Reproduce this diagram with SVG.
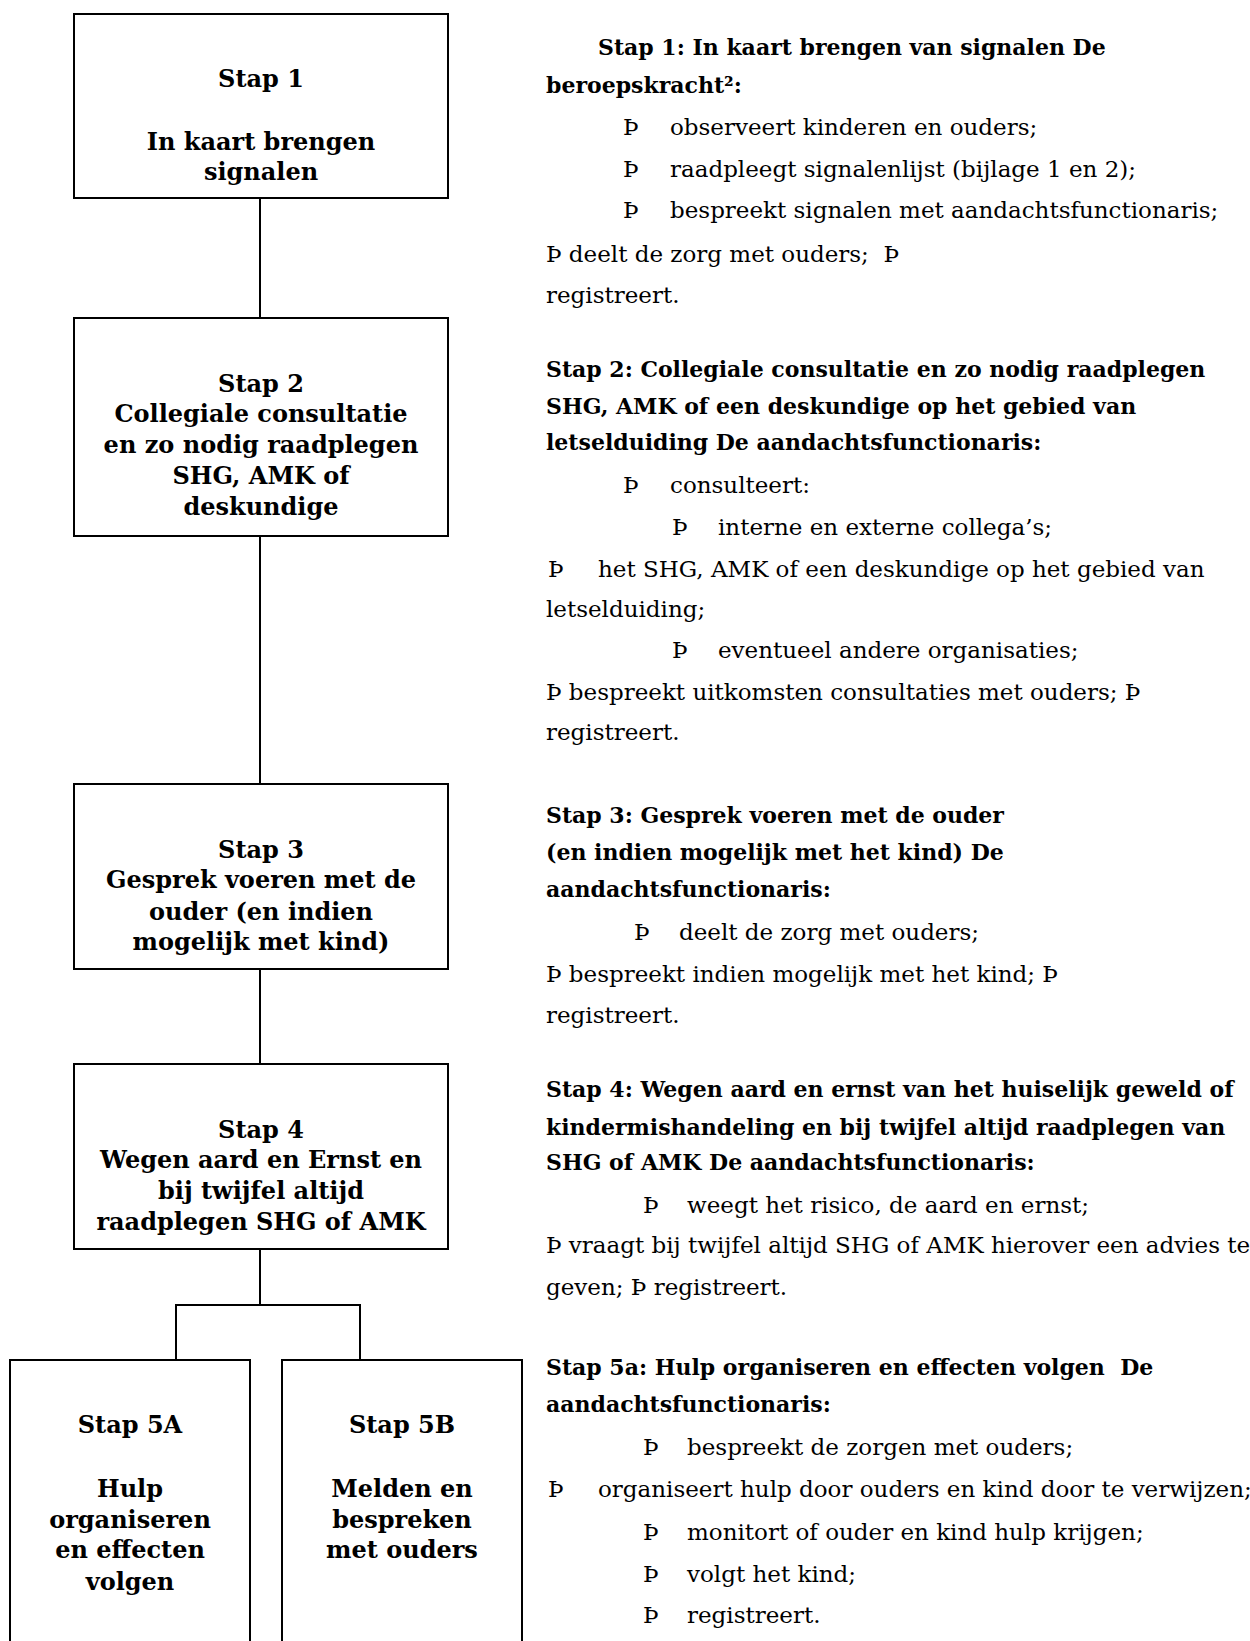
<svg xmlns="http://www.w3.org/2000/svg" width="1250" height="1641" viewBox="0 0 1250 1641">
<style>
.box{fill:#fff;stroke:#000;stroke-width:2}
.con{fill:none;stroke:#000;stroke-width:2}
.bt{font-family:"DejaVu Serif","Liberation Serif",serif;font-weight:bold;font-size:24px;text-anchor:middle;fill:#000}
.h{font-family:"DejaVu Serif","Liberation Serif",serif;font-weight:bold;font-size:22px;fill:#000}
.r{font-family:"DejaVu Serif","Liberation Serif",serif;font-size:23px;fill:#000}
</style>
<rect width="1250" height="1641" fill="#fff"/>
<g id="connectors">
<line class="con" x1="260" y1="198" x2="260" y2="318"/>
<line class="con" x1="260" y1="536" x2="260" y2="784"/>
<line class="con" x1="260" y1="969" x2="260" y2="1064"/>
<polyline class="con" points="260,1249 260,1305"/>
<polyline class="con" points="176,1360 176,1305 360,1305 360,1360"/>
</g>
<g id="stap1">
<rect class="box" x="74" y="14" width="374" height="184"/>
<text class="bt" x="261" y="87">Stap 1</text>
<text class="bt" x="261" y="150">In kaart brengen</text>
<text class="bt" x="261" y="180">signalen</text>
</g>
<g id="stap2">
<rect class="box" x="74" y="318" width="374" height="218"/>
<text class="bt" x="261" y="392">Stap 2</text>
<text class="bt" x="261" y="422">Collegiale consultatie</text>
<text class="bt" x="261" y="453">en zo nodig raadplegen</text>
<text class="bt" x="261" y="484">SHG, AMK of</text>
<text class="bt" x="261" y="515">deskundige</text>
</g>
<g id="stap3">
<rect class="box" x="74" y="784" width="374" height="185"/>
<text class="bt" x="261" y="858">Stap 3</text>
<text class="bt" x="261" y="888">Gesprek voeren met de</text>
<text class="bt" x="261" y="920">ouder (en indien</text>
<text class="bt" x="261" y="950">mogelijk met kind)</text>
</g>
<g id="stap4">
<rect class="box" x="74" y="1064" width="374" height="185"/>
<text class="bt" x="261" y="1138">Stap 4</text>
<text class="bt" x="261" y="1168">Wegen aard en Ernst en</text>
<text class="bt" x="261" y="1199">bij twijfel altijd</text>
<text class="bt" x="261" y="1230">raadplegen SHG of AMK</text>
</g>
<g id="stap5a">
<rect class="box" x="10" y="1360" width="240" height="300"/>
<text class="bt" x="130" y="1433">Stap 5A</text>
<text class="bt" x="130" y="1497">Hulp</text>
<text class="bt" x="130" y="1528">organiseren</text>
<text class="bt" x="130" y="1558">en effecten</text>
<text class="bt" x="130" y="1590">volgen</text>
</g>
<g id="stap5b">
<rect class="box" x="282" y="1360" width="240" height="300"/>
<text class="bt" x="402" y="1433">Stap 5B</text>
<text class="bt" x="402" y="1497">Melden en</text>
<text class="bt" x="402" y="1528">bespreken</text>
<text class="bt" x="402" y="1558">met ouders</text>
</g>
<g id="tekst1">
<text class="h" x="598" y="55">Stap 1: In kaart brengen van signalen De</text>
<text class="h" x="546" y="93">beroepskracht²:</text>
<text class="r" x="623" y="135">Þ</text><text class="r" x="670" y="135">observeert kinderen en ouders;</text>
<text class="r" x="623" y="177">Þ</text><text class="r" x="670" y="177">raadpleegt signalenlijst (bijlage 1 en 2);</text>
<text class="r" x="623" y="218">Þ</text><text class="r" x="670" y="218">bespreekt signalen met aandachtsfunctionaris;</text>
<text class="r" x="546" y="262">Þ deelt de zorg met ouders;&#160; Þ</text>
<text class="r" x="546" y="303">registreert.</text>
</g>
<g id="tekst2">
<text class="h" x="546" y="377">Stap 2: Collegiale consultatie en zo nodig raadplegen</text>
<text class="h" x="546" y="414">SHG, AMK of een deskundige op het gebied van</text>
<text class="h" x="546" y="450">letselduiding De aandachtsfunctionaris:</text>
<text class="r" x="623" y="493">Þ</text><text class="r" x="670" y="493">consulteert:</text>
<text class="r" x="672" y="535">Þ</text><text class="r" x="718" y="535">interne en externe collega’s;</text>
<text class="r" x="548" y="577">Þ</text><text class="r" x="598" y="577">het SHG, AMK of een deskundige op het gebied van</text>
<text class="r" x="546" y="617">letselduiding;</text>
<text class="r" x="672" y="658">Þ</text><text class="r" x="718" y="658">eventueel andere organisaties;</text>
<text class="r" x="546" y="700">Þ bespreekt uitkomsten consultaties met ouders; Þ</text>
<text class="r" x="546" y="740">registreert.</text>
</g>
<g id="tekst3">
<text class="h" x="546" y="823">Stap 3: Gesprek voeren met de ouder</text>
<text class="h" x="546" y="860">(en indien mogelijk met het kind) De</text>
<text class="h" x="546" y="897">aandachtsfunctionaris:</text>
<text class="r" x="634" y="940">Þ</text><text class="r" x="679" y="940">deelt de zorg met ouders;</text>
<text class="r" x="546" y="982">Þ bespreekt indien mogelijk met het kind; Þ</text>
<text class="r" x="546" y="1023">registreert.</text>
</g>
<g id="tekst4">
<text class="h" x="546" y="1097">Stap 4: Wegen aard en ernst van het huiselijk geweld of</text>
<text class="h" x="546" y="1135">kindermishandeling en bij twijfel altijd raadplegen van</text>
<text class="h" x="546" y="1170">SHG of AMK De aandachtsfunctionaris:</text>
<text class="r" x="643" y="1213">Þ</text><text class="r" x="687" y="1213">weegt het risico, de aard en ernst;</text>
<text class="r" x="546" y="1253">Þ vraagt bij twijfel altijd SHG of AMK hierover een advies te</text>
<text class="r" x="546" y="1295">geven; Þ registreert.</text>
</g>
<g id="tekst5a">
<text class="h" x="546" y="1375">Stap 5a: Hulp organiseren en effecten volgen&#160; De</text>
<text class="h" x="546" y="1412">aandachtsfunctionaris:</text>
<text class="r" x="643" y="1455">Þ</text><text class="r" x="687" y="1455">bespreekt de zorgen met ouders;</text>
<text class="r" x="548" y="1497">Þ</text><text class="r" x="598" y="1497">organiseert hulp door ouders en kind door te verwijzen;</text>
<text class="r" x="643" y="1540">Þ</text><text class="r" x="687" y="1540">monitort of ouder en kind hulp krijgen;</text>
<text class="r" x="643" y="1582">Þ</text><text class="r" x="687" y="1582">volgt het kind;</text>
<text class="r" x="643" y="1623">Þ</text><text class="r" x="687" y="1623">registreert.</text>
</g>
</svg>
